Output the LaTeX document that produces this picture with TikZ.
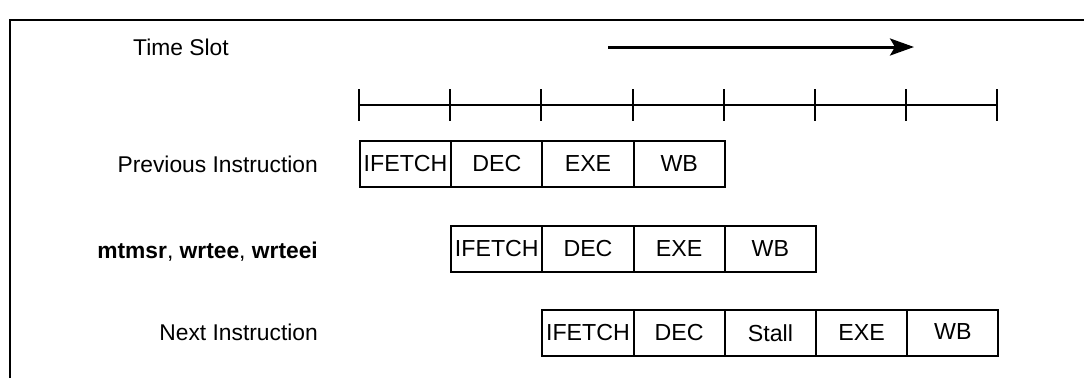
\documentclass[tikz,border=0pt]{standalone}
\usepackage{fontspec}
\setmainfont{Liberation Sans}
\usetikzlibrary{arrows.meta, positioning}

\begin{document}
\begin{tikzpicture}[x=1pt, y=-1pt,
        every node/.style={font=\fontsize{22.8}{27}\selectfont, inner sep=0pt},
        rowlabel/.style={anchor=base east},
        stage/.style={draw, line width=2pt, rectangle, minimum width=91.2pt, minimum height=46pt, anchor=north west, font=\fontsize{23.2}{27}\selectfont}]
        \useasboundingbox (0,0) rectangle (1084,378);

        % Frame
        \draw[line width=2.5pt] (10,378) -- (10,20) -- (1084,20);

        % Time slot arrow
        \node[anchor=base west] (ts) at (133,55) {Time Slot};
        \coordinate (tsa) at (608,47);
        \coordinate (tsb) at (914,47);
        \draw[-{Stealth[length=24pt, width=17pt, inset=5pt]}, line width=3pt] (tsa) -- (tsb);

        % Time line and ticks
        \coordinate (t0) at (359,105);
        \coordinate (t7) at (997.4,105);
        \draw[line width=2pt] (t0) -- (t7);
        \foreach \i in {0,...,7}
            \draw[line width=2pt] (359+91.2*\i,89) -- (359+91.2*\i,121);

        % Previous instruction
        \node[rowlabel] (lp) at (318,172) {Previous Instruction};
        \node[stage] (p1) at (359,140) {IFETCH};
        \node[stage] (p2) at (450.2,140) {DEC};
        \node[stage] (p3) at (541.4,140) {EXE};
        \node[stage] (p4) at (632.6,140) {WB};

        % mtmsr, wrtee, wrteei
        \node[rowlabel] (lm) at (318,258) {\textbf{mtmsr}, \textbf{wrtee}, \textbf{wrteei}};
        \node[stage] (m1) at (450.2,225) {IFETCH};
        \node[stage] (m2) at (541.4,225) {DEC};
        \node[stage] (m3) at (632.6,225) {EXE};
        \node[stage] (m4) at (723.8,225) {WB};

        % Next instruction
        \node[rowlabel] (ln) at (318,340) {Next Instruction};
        \node[stage] (n1) at (541.4,309) {IFETCH};
        \node[stage] (n2) at (632.6,309) {DEC};
        \node[stage] (n3) at (723.8,309) {Stall};
        \node[stage] (n4) at (815,309) {EXE};
        \node[stage] (n5) at (906.2,309) {\raisebox{3pt}{WB}};
    \end{tikzpicture}
\end{document}
